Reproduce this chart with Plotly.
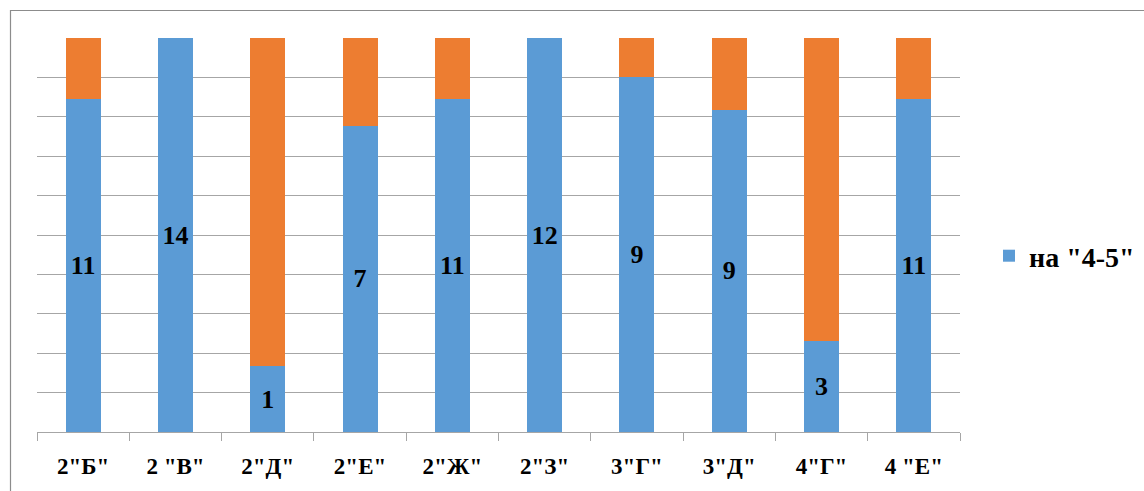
import plotly.graph_objects as go

categories = ['2"Б"', '2 "В"', '2"Д"', '2"Е"', '2"Ж"', '2"З"', '3"Г"', '3"Д"', '4"Г"', '4 "Е"']
good = [11, 14, 1, 7, 11, 12, 9, 9, 3, 11]
other = [2, 0, 5, 2, 2, 0, 1, 2, 10, 2]

W, H = 1144, 491
L, R, T, B = 37, 960, 38, 432

def px_x(p):
    return (p - L) / (R - L)

def px_y(p):
    return (B - p) / (B - T)

font_family = "Liberation Serif"

fig = go.Figure()
fig.add_trace(go.Bar(
    x=categories, y=good, name='на "4-5"',
    marker=dict(color="#5B9BD5", line=dict(width=0)),
    text=[str(v) for v in good], textposition="inside", insidetextanchor="middle",
    textangle=0, constraintext="none",
    textfont=dict(family=font_family, size=26, color="black", weight="bold"),
    hoverinfo="x+y",
))
fig.add_trace(go.Bar(
    x=categories, y=other, name='на "3"',
    marker=dict(color="#ED7D31", line=dict(width=0)),
    showlegend=False, textposition="none",
))

fig.update_layout(
    width=W, height=H,
    barmode="stack", barnorm="percent", bargap=0.62,
    paper_bgcolor="white", plot_bgcolor="white",
    margin=dict(l=L, r=W - R, t=T, b=H - B, pad=0, autoexpand=False),
    font=dict(family=font_family, color="black"),
    legend=dict(x=px_x(989), y=px_y(256), xanchor="left", yanchor="middle",
                font=dict(family=font_family, size=28, color="black", weight="bold"),
                itemwidth=30, bgcolor="rgba(0,0,0,0)"),
    xaxis=dict(
        showgrid=False, showline=True, linecolor="#a6a6a6", linewidth=1,
        ticks="outside", tickson="boundaries", ticklen=8, tickcolor="#a6a6a6",
        tickfont=dict(family=font_family, size=23, color="black", weight="bold"),
        ticklabelstandoff=13,
    ),
    yaxis=dict(
        range=[0, 100], dtick=10, showgrid=True, gridcolor="#a6a6a6", gridwidth=1,
        showticklabels=False, zeroline=False, showline=False, ticks="",
    ),
    shapes=[dict(type="rect", xref="paper", yref="paper",
                 x0=px_x(10.5), x1=px_x(1200), y0=px_y(560), y1=px_y(10.5),
                 line=dict(color="#8c8c8c", width=1.2), fillcolor="rgba(0,0,0,0)", layer="below")],
)

fig.write_html("out.html", config={"displayModeBar": False},
               post_script="document.body.style.margin='0';")
